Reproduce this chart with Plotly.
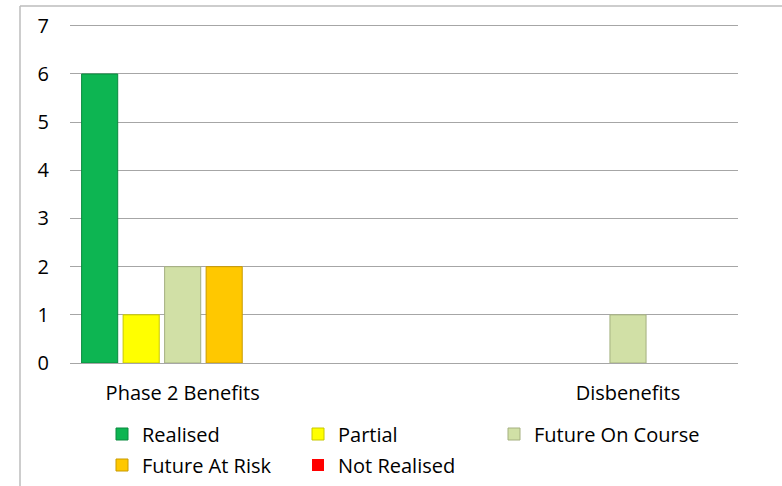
import plotly.graph_objects as go

categories = ["Phase 2 Benefits", "Disbenefits"]
series_names = ["Realised", "Partial", "Future On Course", "Future At Risk", "Not Realised"]
realised = [6, 0]
partial = [1, 0]
future_on_course = [2, 1]
future_at_risk = [2, 0]
not_realised = [0, 0]
y_ticks = [0, 1, 2, 3, 4, 5, 6, 7]

values = [realised, partial, future_on_course, future_at_risk, not_realised]
fills = ["#0DB552", "#FFFF00", "#D1E0A6", "#FFC800", "#FF0000"]
edges = ["#0A8A3E", "#C8C800", "#A5B080", "#C89A00", "#C00000"]

W, H = 782, 486
L, R, T, B = 70, 44, 21, 123
pw, ph = W - L - R, H - T - B

def px_x(x):
    return (x - L) / pw

def px_y(y):
    return (H - B - y) / ph

# legend positions (left px, row-center px) in container coordinates
leg_pos = [(102, 434), (298, 434), (494, 434), (102, 465), (298, 465)]

fig = go.Figure()
font = dict(family="Open Sans, Noto Sans, sans-serif", size=20, color="#000000")
for i, (name, vals) in enumerate(zip(series_names, values)):
    lname = "legend" if i == 0 else f"legend{i+1}"
    fig.add_trace(go.Bar(
        x=categories, y=vals, name=name,
        marker=dict(color=fills[i],
                    line=dict(color=edges[i], width=[1 if v > 0 else 0 for v in vals])),
        legend=lname,
    ))

layout_legends = {}
for i, (lx, ly) in enumerate(leg_pos):
    key = "legend" if i == 0 else f"legend{i+1}"
    layout_legends[key] = dict(
        xref="container", yref="container",
        x=lx / W, y=1 - ly / H, xanchor="left", yanchor="middle",
        orientation="h", font=font, bgcolor="rgba(0,0,0,0)",
        itemwidth=30,
    )

fig.update_layout(
    width=W, height=H,
    margin=dict(l=L, r=R, t=T, b=B, autoexpand=False),
    paper_bgcolor="white", plot_bgcolor="white",
    barmode="group", bargap=0.534, bargroupgap=0.13,
    font=font,
    showlegend=True,
    **layout_legends,
)
fig.update_xaxes(
    range=[-0.253, 1.247], showgrid=False, showline=False, zeroline=False,
    ticks="", ticklabelstandoff=16, tickfont=font,
)
fig.update_yaxes(
    range=[0, 7.1], tickvals=y_ticks, showgrid=True, gridcolor="#A6A6A6", gridwidth=1,
    zeroline=True, zerolinecolor="#A6A6A6", zerolinewidth=1, showline=False,
    ticks="", ticklabelstandoff=20, tickfont=font,
)

# outer chart frame
fx0 = px_x(20)
fy0 = px_y(6)
fig.add_shape(type="line", xref="paper", yref="paper", x0=fx0, x1=fx0, y0=px_y(490), y1=fy0,
              line=dict(color="#BDBDBD", width=1.5))
fig.add_shape(type="line", xref="paper", yref="paper", x0=fx0, x1=px_x(790), y0=fy0, y1=fy0,
              line=dict(color="#BDBDBD", width=1.5))

fig.write_html("out.html")
